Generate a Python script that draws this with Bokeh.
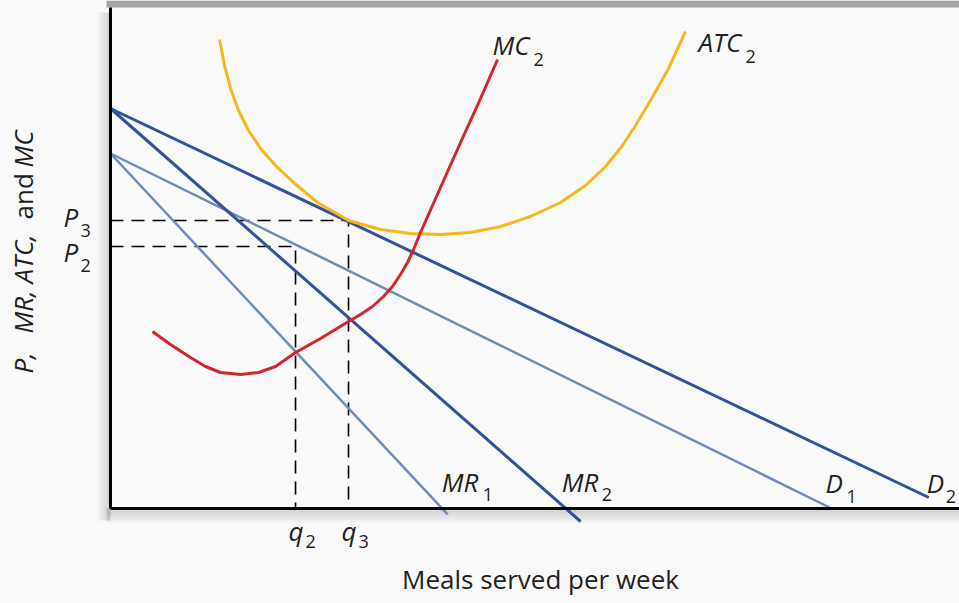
import math
from bokeh.plotting import figure
from bokeh.models import Range1d, Label, FixedTicker, BoxAnnotation
from bokeh.embed import file_html
from bokeh.resources import INLINE

# ---- data (quantity on x, price/cost on y; units) ----
d2_q = [0.0, 97.3]
d2_p = [80.0, 2.2]
mr2_q = [0.0, 55.9]
mr2_p = [80.0, -2.6]
d1_q = [0.0, 85.5]
d1_p = [71.0, 0.2]
mr1_q = [0.0, 40.1]
mr1_p = [71.0, -1.2]

mc_q = [4.99, 7.13, 9.51, 11.30, 13.08, 15.46, 17.60, 19.62, 22.00, 24.97, 28.30, 29.73,
        31.15, 32.46, 33.53, 34.48, 35.32, 36.03, 36.86, 39.24, 41.62, 44.00, 46.02]
mc_p = [35.4, 32.8, 30.2, 28.4, 27.2, 26.8, 27.2, 28.4, 31.2, 34.0, 37.4, 38.8,
        40.4, 42.4, 44.4, 46.8, 49.2, 51.8, 55.2, 64.2, 73.2, 82.0, 89.8]

atc_q = [12.96, 13.56, 14.27, 15.22, 16.41, 17.84, 19.62, 21.76, 24.61, 28.30, 32.10, 35.67,
         39.24, 42.81, 46.37, 49.94, 53.51, 56.48, 58.86, 60.88, 62.43, 64.21, 66.35, 68.37]
atc_p = [93.8, 88.6, 84.0, 79.6, 75.6, 72.0, 68.6, 65.2, 61.2, 57.6, 55.8, 55.0,
         54.8, 55.2, 56.4, 58.4, 61.2, 64.6, 68.4, 72.6, 76.6, 81.6, 88.0, 95.4]

q2, q3 = 22.0, 28.3
p2, p3 = 52.4, 57.6
price_ticks = [p3, p2]
price_tick_subs = ["3", "2"]
qty_ticks = [q2, q3]
qty_tick_subs = ["2", "3"]

X_MIN, X_MAX = -13.08, 100.95
Y_MIN, Y_MAX = -19.0, 101.6
PXU = 8.41   # screen px per x unit
PYU = 5.0    # screen px per y unit
BL = 0.40    # baseline correction (fraction of font size)

DARK = "#34529a"
LIGHT = "#6f8bb9"
RED = "#d3262b"
GOLD = "#f4b81c"
TXT = "#231f20"
FONT = "Open Sans"

p = figure(width=959, height=603, x_range=Range1d(X_MIN, X_MAX), y_range=Range1d(Y_MIN, Y_MAX),
           output_backend="svg", toolbar_location=None,
           min_border_left=0, min_border_right=0, min_border_top=0, min_border_bottom=0)
p.grid.visible = False
p.outline_line_color = None
p.background_fill_color = "#f9f9f9"
p.border_fill_color = "#f9f9f9"

for ax in (p.xaxis, p.yaxis):
    ax.ticker = FixedTicker(ticks=[])
    ax.axis_line_width = 3
    ax.axis_line_color = "black"
    ax.major_tick_line_color = None
    ax.minor_tick_line_color = None
    ax.major_tick_out = 0
    ax.major_tick_in = 0
    ax.major_label_text_font_size = "0px"
    ax.major_label_standoff = 0
    ax.fixed_location = 0
p.xaxis.bounds = (0, X_MAX)
p.yaxis.bounds = (0, 100.2)


def at(x, y, dxpx=0.0, dypx=0.0):
    """data point shifted by screen pixels (dy positive = downwards)"""
    return x + dxpx / PXU, y - dypx / PYU


# frame decorations: top rim and soft shadows
p.add_layout(BoxAnnotation(left=at(0, 0, -4)[0], bottom=at(0, Y_MAX, 0, 7)[1],
                           fill_color="#a4a4a4", fill_alpha=1, line_color=None,
                           level="underlay"))
for k in (3, 6, 9, 12):
    p.add_layout(BoxAnnotation(left=at(0, 0, -k)[0], right=0, bottom=at(0, 0, 0, 12)[1],
                               top=at(0, Y_MAX, 0, 12)[1], fill_color="black",
                               fill_alpha=0.04, line_color=None, level="underlay"))
    p.add_layout(BoxAnnotation(left=at(0, 0, -4)[0], top=0, bottom=at(0, 0, 0, k + 2)[1],
                               fill_color="black", fill_alpha=0.035, line_color=None,
                               level="underlay"))

# dashed guides
dash = "13 8"
p.line([0, q3, q3], [p3, p3, 0], line_color="black", line_width=1.6, line_dash=dash)
p.line([0, q2, q2], [p2, p2, 0], line_color="black", line_width=1.6, line_dash=dash)

# curves
p.line(d1_q, d1_p, line_color=LIGHT, line_width=2.5)
p.line(mr1_q, mr1_p, line_color=LIGHT, line_width=2.5)
p.line(d2_q, d2_p, line_color=DARK, line_width=3)
p.line(mr2_q, mr2_p, line_color=DARK, line_width=3)
p.line(atc_q, atc_p, line_color=GOLD, line_width=3)
p.line(mc_q, mc_p, line_color=RED, line_width=3)


def lab(pos, text, size, style="italic", angle=0.0, align="left"):
    if angle == 0.0:
        pos = at(pos[0], pos[1], 0, -BL * size)
    else:
        pos = at(pos[0], pos[1], -BL * size, 0)
    p.add_layout(Label(x=pos[0], y=pos[1], text=text, text_font=FONT,
                       text_font_size=f"{size}px", text_font_style=style, text_color=TXT,
                       angle=angle, text_align=align, text_baseline="alphabetic"))


def sublab(x, y, main, sub, dx, dy, sdx, sdy):
    lab(at(x, y, dx, dy), main, 26)
    lab(at(x, y, sdx, sdy), sub, 18, "normal")


# curve labels, anchored to curve ends
sublab(mc_q[-1], mc_p[-1], "MC", "2", -5, -4, 36, 7)
sublab(atc_q[-1], atc_p[-1], "ATC", "2", 13, 21, 60, 32)
sublab(mr1_q[-1], mr1_p[-1], "MR", "1", -6, -22, 35, -13)
sublab(mr2_q[-1], mr2_p[-1], "MR", "2", -19, -29, 21, -20)
sublab(d1_q[-1], d1_p[-1], "D", "1", -4, -14, 17, -4)
sublab(d2_q[-1], d2_p[-1], "D", "2", -2, -4, 17, 6)

# tick labels (P labels are stacked as in the original)
price_label_dy = [7, 16]
for v, s, dy in zip(price_ticks, price_tick_subs, price_label_dy):
    sublab(0, v, "P", s, -47, dy, -30, dy + 10)
for v, s in zip(qty_ticks, qty_tick_subs):
    sublab(v, 0, "q", s, -7, 33, 10, 40)

# axis titles
lab(at(0, 0, 430, 81), "Meals served per week", 26, "normal", align="center")
ylab_x = at(0, 0, -77)[0]
lab((ylab_x, at(0, 0, 0, -135)[1]), "P,", 26, "italic", math.pi / 2)
lab((ylab_x, at(0, 0, 0, -175)[1]), "MR,", 26, "italic", math.pi / 2)
lab((ylab_x, at(0, 0, 0, -225)[1]), "ATC,", 26, "italic", math.pi / 2)
lab((ylab_x, at(0, 0, 0, -289)[1]), "and", 26, "normal", math.pi / 2)
lab((ylab_x, at(0, 0, 0, -341)[1]), "MC", 26, "italic", math.pi / 2)

open("out.html", "w").write(file_html(p, INLINE))
